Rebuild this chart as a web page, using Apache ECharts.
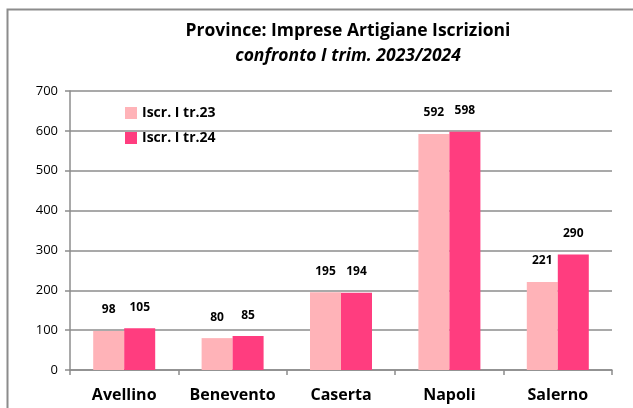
<!DOCTYPE html>
<html>
<head>
<meta charset="utf-8">
<script src="https://cdn.jsdelivr.net/npm/echarts@6/dist/echarts.min.js"></script>
<style>
  html, body { margin: 0; padding: 0; background: #fff; }
  #chart { width: 633px; height: 408px; }
</style>
</head>
<body>
<div id="chart"></div>
<script>
// dati
const province = ['Avellino', 'Benevento', 'Caserta', 'Napoli', 'Salerno'];
const iscr23 = [98, 80, 195, 592, 221];
const iscr24 = [105, 85, 194, 598, 290];
const serie = ['Iscr. I tr.23', 'Iscr. I tr.24'];

const font = '"Open Sans", "Noto Sans", sans-serif';

const chart = echarts.init(document.getElementById('chart'));

const labelStyle = {
  show: true,
  position: 'top',
  distance: 15,
  fontFamily: font,
  fontWeight: 'bold',
  fontSize: 12,
  color: '#000'
};

chart.setOption({
  animation: false,
  graphic: [{
    type: 'rect',
    shape: { x: 7.5, y: 9.5, width: 700, height: 500 },
    style: { fill: 'none', stroke: '#8c8c8c', lineWidth: 2 },
    z: -1
  }],
  title: {
    text: 'Province: Imprese Artigiane Iscrizioni',
    subtext: 'confronto I trim. 2023/2024',
    left: 343,
    textAlign: 'center',
    top: 17,
    itemGap: 7,
    textStyle: { fontFamily: font, fontWeight: 'bold', fontSize: 17.5, color: '#000' },
    subtextStyle: { fontFamily: font, fontWeight: 'bold', fontStyle: 'italic', fontSize: 17.5, color: '#000' }
  },
  legend: {
    orient: 'vertical',
    left: 120,
    top: 101,
    itemWidth: 12,
    itemHeight: 12,
    itemGap: 11,
    icon: 'rect',
    textStyle: { fontFamily: font, fontWeight: 'bold', fontSize: 14, color: '#000' },
    data: serie
  },
  grid: { left: 70, right: 21, top: 91, bottom: 38 },
  xAxis: {
    type: 'category',
    data: province,
    axisLine: { lineStyle: { color: '#8c8c8c', width: 1.5 } },
    axisTick: { show: true, length: 5, lineStyle: { color: '#8c8c8c', width: 1.5 } },
    axisLabel: { interval: 0, fontFamily: font, fontWeight: 'bold', fontSize: 16, color: '#000', margin: 17 }
  },
  yAxis: {
    type: 'value',
    min: 0,
    max: 700,
    interval: 100,
    axisLine: { show: true, lineStyle: { color: '#8c8c8c', width: 1.5 } },
    axisTick: { show: true, length: 5, lineStyle: { color: '#8c8c8c', width: 1.5 } },
    axisLabel: { fontFamily: font, fontSize: 13, color: '#000', margin: 12 },
    splitLine: { lineStyle: { color: '#8c8c8c', width: 1.5 } }
  },
  series: [
    {
      name: serie[0],
      type: 'bar',
      data: iscr23,
      barWidth: 31,
      barGap: '0%',
      itemStyle: { color: '#ffb3b8' },
      label: labelStyle
    },
    {
      name: serie[1],
      type: 'bar',
      data: iscr24,
      barWidth: 31,
      barGap: '0%',
      itemStyle: { color: '#ff3d7f' },
      label: labelStyle
    }
  ]
});
</script>
</body>
</html>
